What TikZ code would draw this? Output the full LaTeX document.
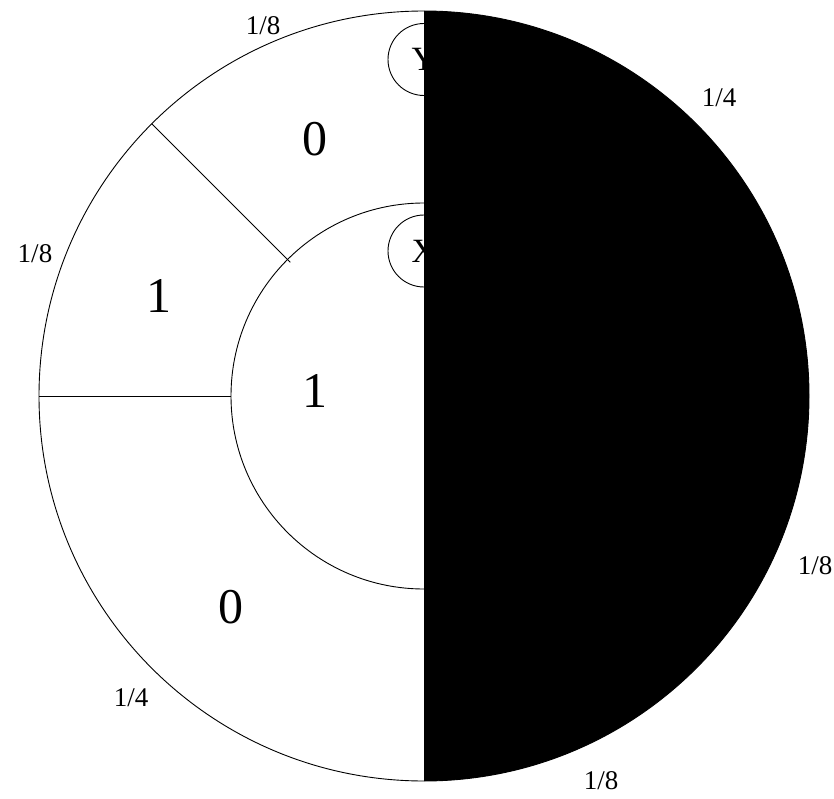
\documentclass[tikz,border=0pt]{standalone}
\usepackage{fontspec}
\setmainfont{Liberation Serif}
\usetikzlibrary{positioning}

\begin{document}
\begin{tikzpicture}[
  x=1pt,y=-1pt,
  line width=0.9pt,
  digit/.style={font=\fontsize{50}{52}\selectfont,inner sep=0pt},
  frac/.style={font=\fontsize{27}{29}\selectfont,inner sep=0pt},
  tag/.style={draw,circle,minimum size=72pt,inner sep=0pt,font=\fontsize{34}{36}\selectfont}
]
\useasboundingbox (0,0) rectangle (834,799);
\coordinate (o) at (424,396);

% rings
\draw (o) circle (385pt);
\draw (o) circle (193pt);

% dividers
\path (o) ++(135:385pt) coordinate (d1out) (o) ++(135:189pt) coordinate (d1in);
\path (o) ++(180:385pt) coordinate (d2out) (o) ++(180:193pt) coordinate (d2in);
\draw (d1out) -- (d1in);
\draw (d2out) -- (d2in);

% small tags
\node[tag] (ytag) at (424,59.5) {Y};
\node[tag] (xtag) at (424,251) {X};

% black half
\begin{scope}
  \clip (424,0) rectangle (834,799);
  \fill (o) circle (385pt);
\end{scope}

% region values
\node[digit] (v1) at (315,139) {0};
\node[digit] (v2) at (159,296) {1};
\node[digit] (v3) at (315,391) {1};
\node[digit] (v4) at (231,607) {0};

% probabilities
\node[frac] (p1) at (263,26) {1/8};
\node[frac] (p2) at (719,98) {1/4};
\node[frac] (p3) at (35,254) {1/8};
\node[frac] (p4) at (815,566) {1/8};
\node[frac] (p5) at (131,698) {1/4};
\node[frac] (p6) at (601,781) {1/8};
\end{tikzpicture}
\end{document}
